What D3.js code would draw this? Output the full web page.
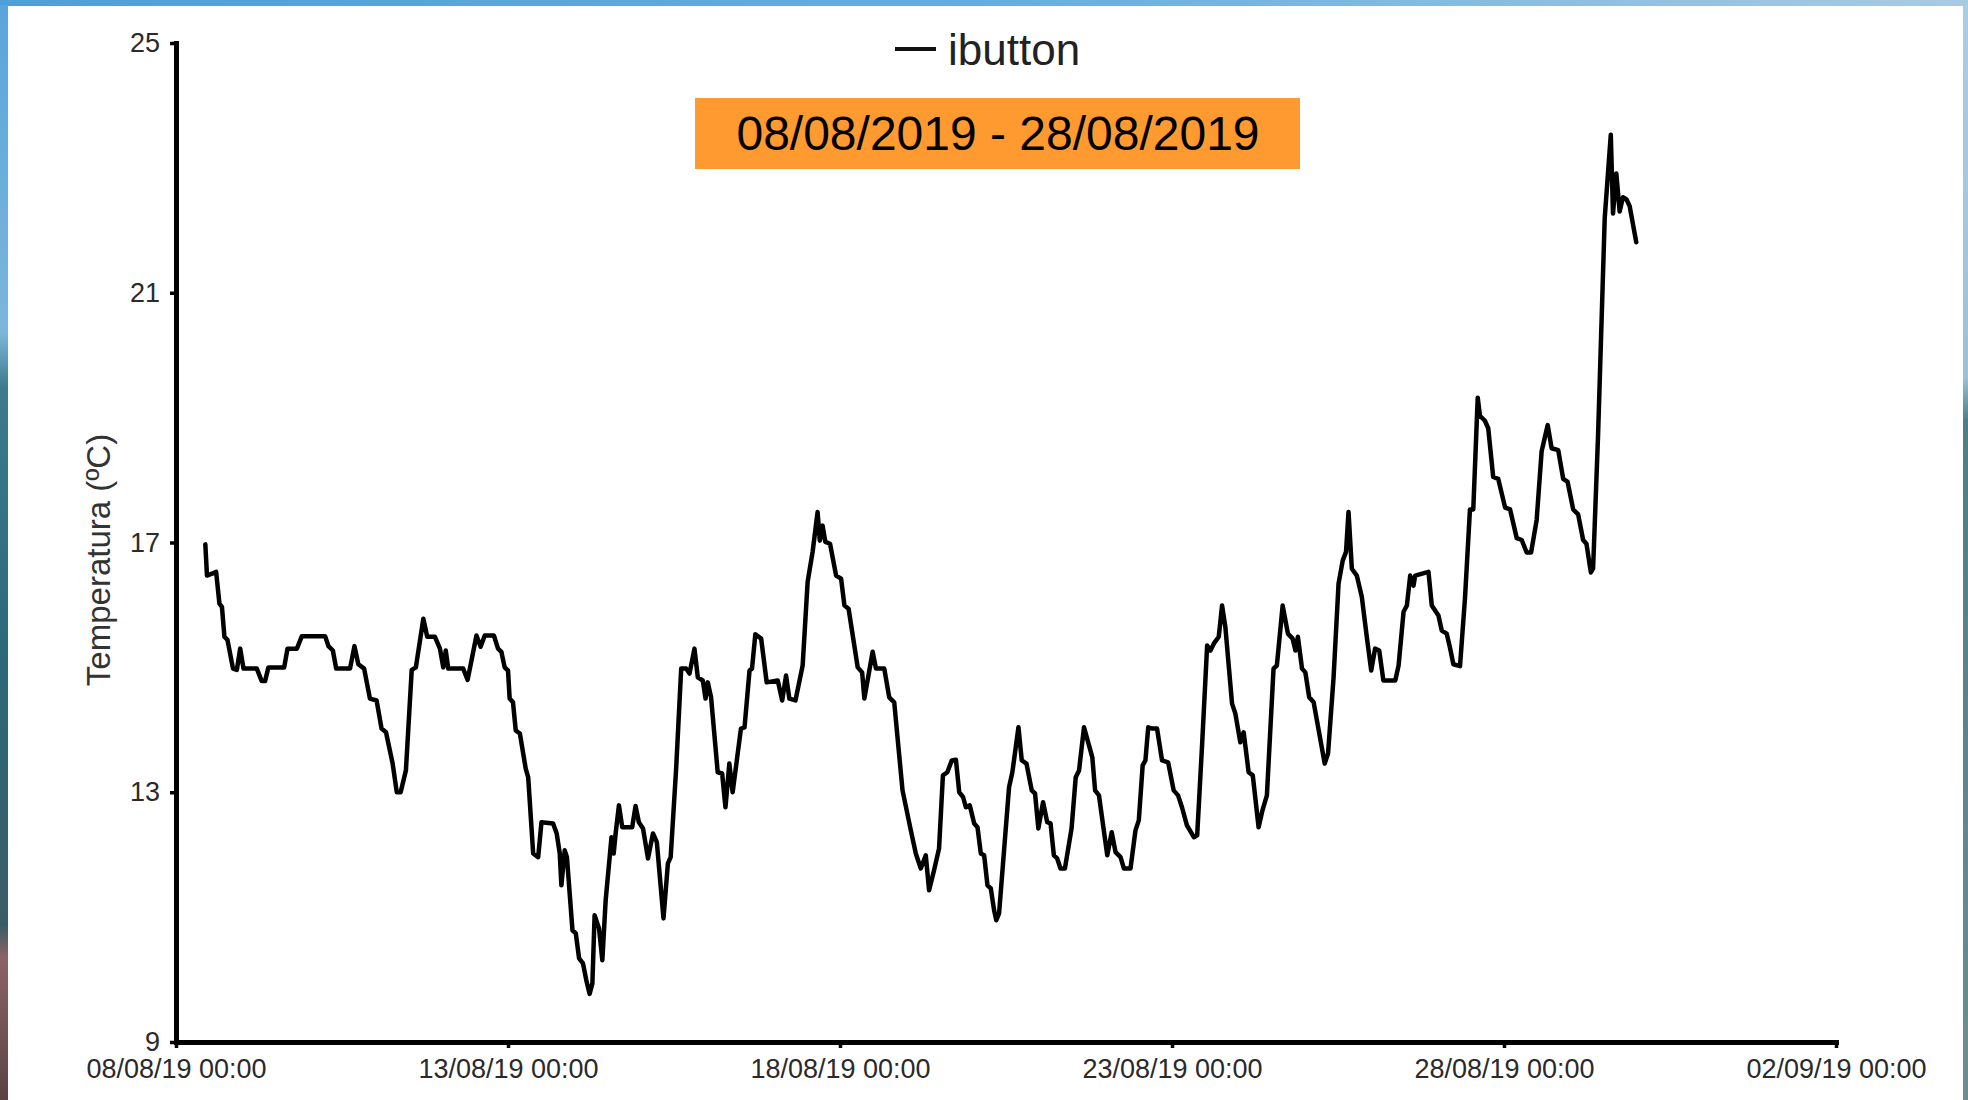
<!DOCTYPE html>
<html>
<head>
<meta charset="utf-8">
<script src="https://cdn.jsdelivr.net/npm/d3@7"></script>
<style>
  body { margin: 0; background: #fff; }
  svg { display: block; }
</style>
</head>
<body>
<svg id="chart"></svg>
<script>
// hours since 08/08/2019 00:00 and logged temperature (ºC)
const hours = [
  10.6, 11.2, 13, 14.5, 15.7, 16.6, 17.5, 18.6, 20.6, 22, 23.2, 24.4, 29.2, 31, 32.2, 33.4,
  39.1, 40.3, 43.7, 45.5, 53.9, 55.1, 56.7, 57.9, 62.9, 64.5, 65.9, 68, 70.1, 72.5, 74.3, 75.9,
  78.3, 79.8, 81.2, 83.1, 85.2, 86.7, 89.4, 90.8, 93.6, 95.4,
  96.6, 97.5, 98.4, 103.8, 105.4, 106.8, 108.6, 110.1, 111.6, 114.9, 116.4, 117.6, 118.8, 120,
  120.6, 121.8, 122.8, 124.3, 126.4, 127.3, 129.1, 130.9, 132.1, 136.3, 137.6, 138.7, 139.3,
  140.5, 141.3, 143.3, 144.5, 145.7, 147.1, 148.3, 149.5, 150.5, 151.3, 152.9, 154.1, 155.3,
  156.7, 157.4, 158.2, 158.9, 160.1, 161.3, 164.9, 166.1, 167.3, 168.8, 170.6, 172.4, 173.8,
  176.2, 177.8, 178.8, 180.8, 182.6, 184.4, 185.6,
  187.4, 188.6, 190.4, 191.4, 192.2, 193.4, 195.8, 197.4, 198.6, 200, 201.2, 204.2, 205.5,
  207.3, 208.2, 209.4, 211.5, 213.5, 217.5, 219.1, 220.5, 221.7, 223.9, 226.5, 228.3, 230.1,
  231.9, 232.7, 233.7, 234.7, 236.4, 238.6, 240.4, 241.6, 243.1, 246.4, 248, 248.8, 251.8,
  253, 256, 257.8, 259.6, 262.6, 265.6, 267.4, 269.2, 271, 272.2, 274, 275.8,
  277.2, 278.8, 280.4, 281.9, 283.1, 284.5, 285.5, 286.9, 288.5, 289.7, 290.9, 292.1, 293.3,
  294.5, 295.7, 296.5, 297.5, 301.1, 302.3, 304.5, 305.7, 307.4, 309.3, 310.5, 311.7, 313.4,
  314.9, 316.1, 317.3, 318.5, 319.7, 321.3, 323.7, 325.2, 326.4, 328.2, 331.2, 332.2, 333.6,
  336.6, 338.2, 339.6, 341.4, 342.6, 345, 346.8, 348, 349.4, 350.4, 351.4, 352.8, 354.6,
  356.4, 358.6, 360.6, 362.2, 363.6, 365.4,
  367.9, 369.1, 370.9, 372.7, 373.9, 375.1, 376.9, 378.1, 379.3, 381.7, 382.9, 384.7, 385.9,
  387.7, 389.2, 391.3, 392.7, 394.3, 396.7, 397.9, 400, 401.9, 403.6, 404.6, 405.5, 407,
  408.2, 409.6, 411.2, 415.2, 416.4, 418.4, 420.2, 421.7, 422.9, 423.8, 425, 426.8, 428.6,
  430.4, 432, 433.4, 434.9, 436.4, 440.7, 441.9, 443.7, 444.9, 446.1, 447.3, 447.9, 452.7,
  453.9, 456.3,
  457.5, 459.3, 460.5, 461.7, 464.1, 465.9, 467.7, 468.9, 470.5, 471.3, 473.1, 474.3, 476.1,
  477.9, 480.4, 482.2, 484.6, 486.4, 488.2, 489.8, 491.8, 493.6, 495.8, 497.2, 499.6, 501.4,
  503, 505, 506.8, 508.6, 509.8, 511.4, 512.2, 514, 516.4, 518.6, 519.4, 520.6, 521.8, 523,
  524.2, 525.4, 527.8
];
const temps = [
  16.97, 16.47, 16.5, 16.53, 16.02, 15.97, 15.49, 15.44, 14.98, 14.96, 15.3, 14.98, 14.98, 14.78, 14.78, 15.0,
  15.0, 15.3, 15.3, 15.5, 15.5, 15.34, 15.27, 14.98, 14.98, 15.34, 15.05, 14.98, 14.5, 14.47, 14.02, 13.96,
  13.46, 13.0, 13.0, 13.35, 14.96, 15.0, 15.78, 15.49, 15.49, 15.3,
  15.0, 15.27, 14.98, 14.98, 14.8, 15.11, 15.51, 15.33, 15.51, 15.51, 15.3, 15.25, 15.0, 14.95,
  14.5, 14.44, 13.99, 13.94, 13.38, 13.24, 12.02, 11.96, 12.52, 12.5, 12.34, 12.02, 11.51,
  12.07, 11.96, 10.79, 10.74, 10.34, 10.26, 9.99, 9.77, 9.94, 11.03, 10.82, 10.31, 11.27,
  11.94, 12.28, 12.02, 12.34, 12.79, 12.44, 12.44, 12.78, 12.52, 12.42, 11.94, 12.34, 12.2,
  10.98, 11.86, 11.96, 13.4, 14.98, 14.98, 14.9,
  15.3, 14.84, 14.79, 14.5, 14.76, 14.52, 13.32, 13.3, 12.76, 13.46, 13.0, 14.02, 14.04,
  14.95, 14.98, 15.53, 15.46, 14.76, 14.79, 14.47, 14.87, 14.5, 14.47, 15.03, 16.37, 16.85,
  17.49, 17.03, 17.27, 17.01, 16.98, 16.47, 16.42, 15.99, 15.94, 15.0, 14.92, 14.5, 15.25,
  14.98, 14.98, 14.52, 14.44, 13.03, 12.39, 12.02, 11.78, 11.99, 11.43, 11.75, 12.1,
  13.27, 13.32, 13.51, 13.52, 13.0, 12.92, 12.76, 12.79, 12.5, 12.44, 12.02, 11.99, 11.51,
  11.46, 11.11, 10.95, 11.06, 13.08, 13.32, 14.04, 13.51, 13.46, 13.03, 12.98, 12.42, 12.84,
  12.52, 12.5, 11.99, 11.94, 11.78, 11.78, 12.42, 13.24, 13.35, 14.04, 13.56, 13.03, 12.95,
  11.99, 12.36, 12.04, 11.96, 11.78, 11.78, 12.39, 12.55, 13.43, 13.51, 14.04, 14.02, 14.02,
  13.51, 13.48, 13.03, 12.95, 12.76, 12.47,
  12.28, 12.31, 13.78, 15.35, 15.27, 15.38, 15.49, 15.99, 15.64, 14.42, 14.26, 13.8, 13.96,
  13.32, 13.27, 12.44, 12.71, 12.95, 14.98, 15.03, 15.99, 15.54, 15.46, 15.27, 15.49, 14.98,
  14.92, 14.52, 14.44, 13.46, 13.62, 14.84, 16.34, 16.71, 16.85, 17.49, 16.58, 16.47, 16.13,
  15.49, 14.95, 15.3, 15.27, 14.79, 14.79, 15.03, 15.89, 15.99, 16.47, 16.31, 16.47, 16.53,
  15.99, 15.83,
  15.59, 15.54, 15.31, 15.05, 15.02, 16.11, 17.53, 17.53, 19.32, 19.03, 18.95, 18.83, 18.05,
  18.02, 17.56, 17.53, 17.07, 17.04, 16.84, 16.84, 17.36, 18.46, 18.88, 18.51, 18.48, 18.02,
  17.97, 17.53, 17.45, 17.04, 16.98, 16.52, 16.58, 18.72, 22.19, 23.53, 22.27, 22.91, 22.3, 22.53,
  22.5, 22.39, 21.81
];

const startDate = new Date(2019, 7, 8);
const endDate = new Date(2019, 8, 2);
const xTickDays = [0, 5, 10, 15, 20, 25];
const yTicks = [9, 13, 17, 21, 25];
const seriesName = "ibutton";
const periodText = "08/08/2019 - 28/08/2019";
const yTitle = "Temperatura (ºC)";

const width = 1968;
const height = 1100;

const svg = d3.select("#chart")
  .attr("width", width)
  .attr("height", height);

const defs = svg.append("defs");

// slide frame: blue band on top, photo strips on the sides
const topGrad = defs.append("linearGradient").attr("id", "topGrad");
topGrad.append("stop").attr("offset", "0%").attr("stop-color", "#4f9fd9");
topGrad.append("stop").attr("offset", "50%").attr("stop-color", "#64ade0");
topGrad.append("stop").attr("offset", "100%").attr("stop-color", "#a8cbe4");

const leftGrad = defs.append("linearGradient").attr("id", "leftGrad")
  .attr("x1", 0).attr("y1", 0).attr("x2", 0).attr("y2", 1);
[["0%", "#5aa5db"], ["30%", "#7cb6da"], ["35%", "#3c7b8c"], ["60%", "#2d6879"],
 ["84%", "#3a5c68"], ["87%", "#8b6266"], ["100%", "#5b4244"]].forEach(s =>
  leftGrad.append("stop").attr("offset", s[0]).attr("stop-color", s[1]));

const rightGrad = defs.append("linearGradient").attr("id", "rightGrad")
  .attr("x1", 0).attr("y1", 0).attr("x2", 0).attr("y2", 1);
[["0%", "#a9cde6"], ["34%", "#9cc2da"], ["38%", "#4e7e86"], ["100%", "#6d8d94"]].forEach(s =>
  rightGrad.append("stop").attr("offset", s[0]).attr("stop-color", s[1]));

svg.append("rect").attr("x", 0).attr("y", 0).attr("width", width).attr("height", 6)
  .attr("fill", "url(#topGrad)");
svg.append("rect").attr("x", 0).attr("y", 5).attr("width", 8).attr("height", height - 5)
  .attr("fill", "url(#leftGrad)");
svg.append("rect").attr("x", 1963).attr("y", 5).attr("width", 5).attr("height", height - 5)
  .attr("fill", "url(#rightGrad)");

// scales
const x = d3.scaleTime()
  .domain([startDate, endDate])
  .range([176, 1836]);

const y = d3.scaleLinear()
  .domain([9, 25])
  .range([1042, 43]);

const data = hours.map((h, i) => ({
  date: new Date(startDate.getTime() + h * 3600 * 1000),
  temp: temps[i]
}));

// axes
const xAxis = d3.axisBottom(x)
  .tickValues(xTickDays.map(d => d3.timeDay.offset(startDate, d)))
  .tickFormat(d3.timeFormat("%d/%m/%y %H:%M"))
  .tickSize(6)
  .tickSizeOuter(0)
  .tickPadding(11);

const yAxis = d3.axisLeft(y)
  .tickValues(yTicks)
  .tickSize(6)
  .tickSizeOuter(0)
  .tickPadding(10);

const gx = svg.append("g")
  .attr("transform", `translate(0, ${y(9)})`)
  .call(xAxis);

const gy = svg.append("g")
  .attr("transform", `translate(${x(startDate)}, 0)`)
  .call(yAxis);

[gx, gy].forEach(g => {
  g.attr("font-family", "'Liberation Sans', Arial, sans-serif")
    .attr("font-size", 27);
  g.select(".domain")
    .attr("stroke", "#000")
    .attr("stroke-width", 5)
    .attr("stroke-linecap", "square");
  g.selectAll(".tick line")
    .attr("stroke", "#000")
    .attr("stroke-width", 3.5);
  g.selectAll(".tick text")
    .attr("fill", "#2a2a2a");
});

// the series
const line = d3.line()
  .x(d => x(d.date))
  .y(d => y(d.temp));

svg.append("path")
  .datum(data)
  .attr("fill", "none")
  .attr("stroke", "#000")
  .attr("stroke-width", 4.5)
  .attr("stroke-linejoin", "round")
  .attr("stroke-linecap", "round")
  .attr("d", line);

// y title
svg.append("text")
  .attr("transform", "translate(110, 560) rotate(-90)")
  .attr("text-anchor", "middle")
  .attr("font-family", "'Liberation Sans', Arial, sans-serif")
  .attr("font-size", 33)
  .attr("fill", "#333")
  .text(yTitle);

// legend
svg.append("line")
  .attr("x1", 895).attr("x2", 936)
  .attr("y1", 49).attr("y2", 49)
  .attr("stroke", "#111")
  .attr("stroke-width", 4);

svg.append("text")
  .attr("x", 948)
  .attr("y", 65)
  .attr("font-family", "'Liberation Sans', Arial, sans-serif")
  .attr("font-size", 44)
  .attr("fill", "#222")
  .text(seriesName);

// period banner
svg.append("rect")
  .attr("x", 695).attr("y", 98)
  .attr("width", 605).attr("height", 71)
  .attr("fill", "#fe9a30");

svg.append("text")
  .attr("x", 998)
  .attr("y", 150)
  .attr("text-anchor", "middle")
  .attr("font-family", "'Liberation Sans', Arial, sans-serif")
  .attr("font-size", 48)
  .attr("fill", "#000")
  .text(periodText);
</script>
</body>
</html>
